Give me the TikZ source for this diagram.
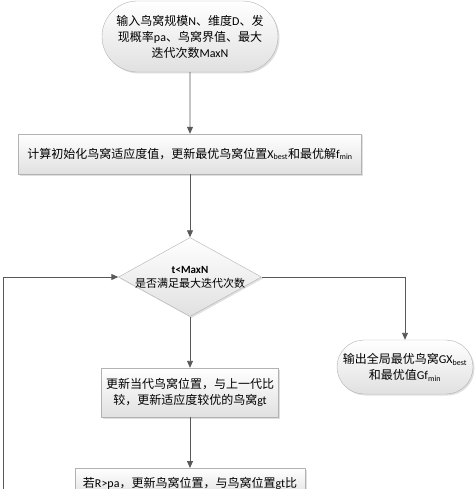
\documentclass[tikz,border=0pt]{standalone}
\usepackage{fontspec}
\setmainfont{Noto Sans CJK SC}
\newfontfamily\en{Carlito}
\usetikzlibrary{shapes.geometric,shapes.misc,shadows,arrows.meta}

\begin{document}
\begin{tikzpicture}[x=1pt, y=-1pt,
        every node/.style={font=\fontsize{12}{16}\selectfont, align=center, inner sep=0pt},
        box/.style={draw=black!30, top color=white, bottom color=black!12,
            drop shadow={opacity=0.25, shadow xshift=1.5pt, shadow yshift=-1.5pt}},
        proc/.style={box, rectangle},
        term/.style={box, rounded rectangle},
        cond/.style={box, diamond},
        flow/.style={draw=black!65, line width=0.9pt, -{Triangle[length=7pt, width=6pt]}}]
        \useasboundingbox (0,0) rectangle (475,489);
        \clip (0,0) rectangle (475,489);

        \node[term, minimum width=176pt, minimum height=71pt] (start) at (190,36.5)
            {输入鸟窝规模{\en N}、维度{\en D}、发\\现概率{\en pa}、鸟窝界值、最大\\迭代次数{\en MaxN}};
        \node[proc, minimum width=343pt, minimum height=40pt] (init) at (190,154)
            {计算初始化鸟窝适应度值，更新最优鸟窝位置{\en X\textsubscript{best}}和最优解{\en f\textsubscript{min}}};
        \node[cond, minimum width=143pt, minimum height=79pt] (check) at (190,277) {};
        \node[font=\fontsize{11}{14}\selectfont] (checktext) at (check)
            {{\en\bfseries t<MaxN}\\是否满足最大迭代次数};
        \node[term, minimum width=136pt, minimum height=54pt] (output) at (405,367)
            {输出全局最优鸟窝{\en GX\textsubscript{best}}\\和最优值{\en Gf\textsubscript{min}}};
        \node[proc, minimum width=177pt, minimum height=49pt] (update) at (190,392.5)
            {更新当代鸟窝位置，与上一代比\\较，更新适应度较优的鸟窝{\en gt}};
        \node[proc, anchor=north, minimum width=230pt, inner ysep=9pt] (discard) at (190,468)
            {若{\en R>pa}，更新鸟窝位置，与鸟窝位置{\en gt}比};
        \coordinate (back) at (3,500);

        \draw[flow] (start) -- (init);
        \draw[flow] (init) -- (check);
        \draw[flow] (check) -- (update);
        \draw[flow] (update) -- (discard);
        \draw[flow] (check.east) -| (output.north);
        \draw[flow] (back) |- (check.west);
    \end{tikzpicture}
\end{document}
